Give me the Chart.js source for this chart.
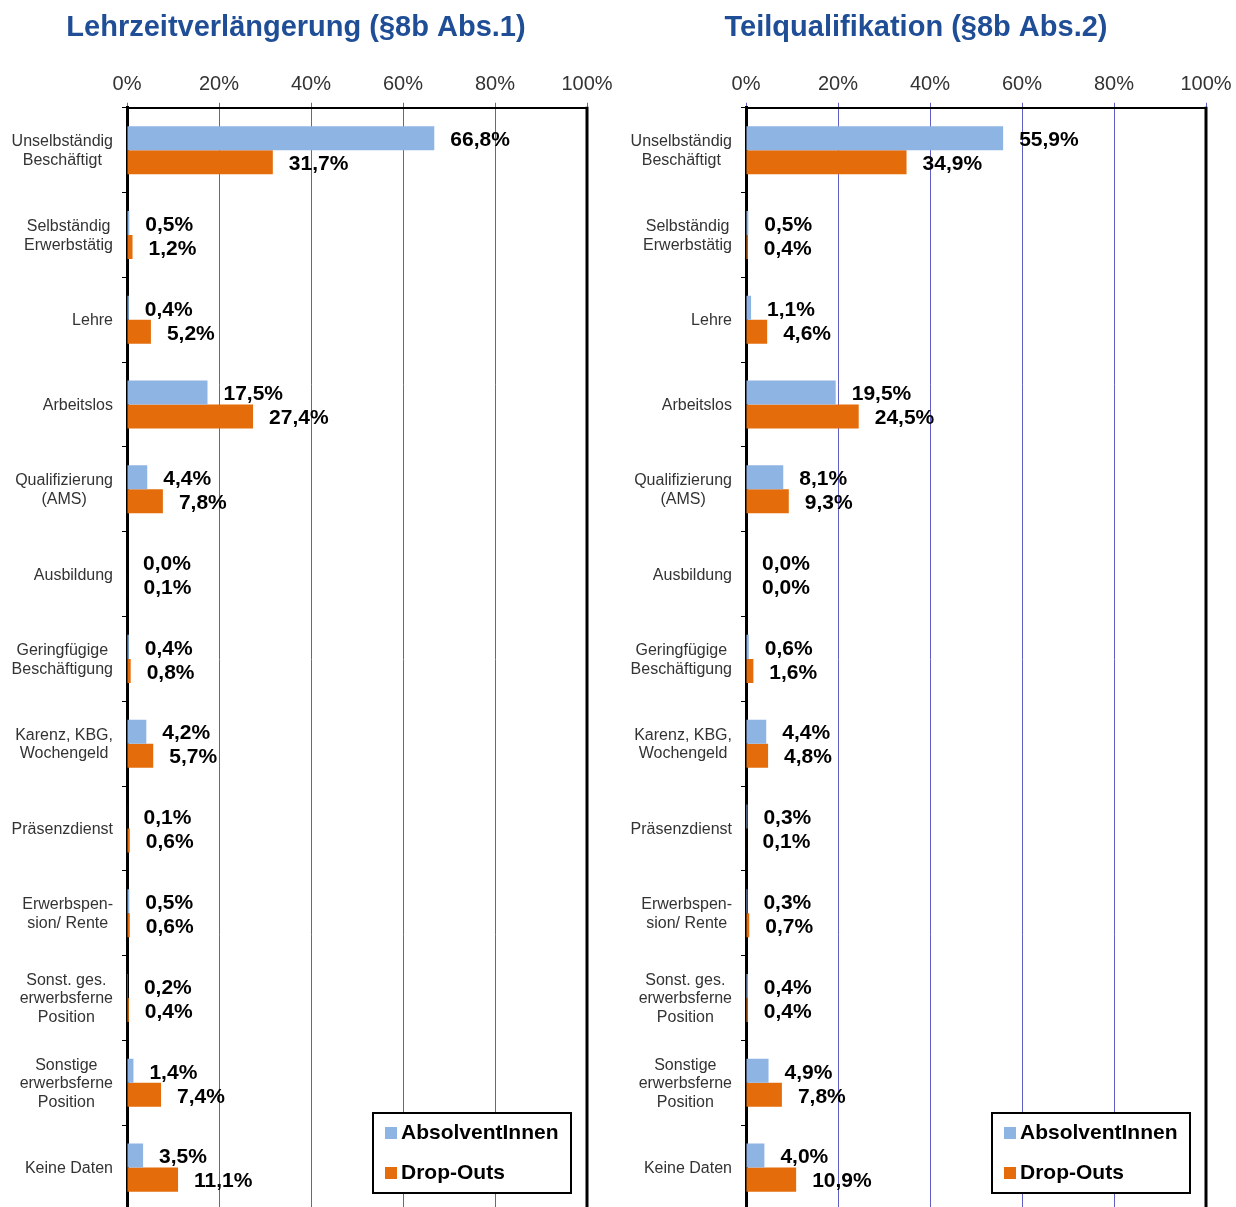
<!DOCTYPE html>
<html>
<head>
<meta charset="utf-8">
<script src="https://cdn.jsdelivr.net/npm/chart.js@4.4.0/dist/chart.umd.min.js"></script>
<style>
  html, body { margin: 0; padding: 0; background: #fff; overflow: hidden; width: 1236px; height: 1207px; }
  canvas { position: absolute; top: 0; }
  #chartLeft { left: 5px; }
  #chartRight { left: 626px; }
</style>
</head>
<body>
<canvas id="chartLeft" width="640" height="1215"></canvas>
<canvas id="chartRight" width="640" height="1215"></canvas>
<script>
// Kategorien (mehrzeilig wie im Original)
const categories = [
    ["Unselbständig", "Beschäftigt"],
    ["Selbständig", "Erwerbstätig"],
    ["Lehre"],
    ["Arbeitslos"],
    ["Qualifizierung", "(AMS)"],
    ["Ausbildung"],
    ["Geringfügige", "Beschäftigung"],
    ["Karenz, KBG,", "Wochengeld"],
    ["Präsenzdienst"],
    ["Erwerbspen-", "sion/ Rente"],
    ["Sonst. ges.", "erwerbsferne", "Position"],
    ["Sonstige", "erwerbsferne", "Position"],
    ["Keine Daten"]
];

const seriesNames = ["AbsolventInnen", "Drop-Outs"];

// Lehrzeitverlängerung (§8b Abs.1)
const lzvAbsolventen = [66.8, 0.5, 0.4, 17.5, 4.4, 0.0, 0.4, 4.2, 0.1, 0.5, 0.2, 1.4, 3.5];
const lzvDropOuts    = [31.7, 1.2, 5.2, 27.4, 7.8, 0.1, 0.8, 5.7, 0.6, 0.6, 0.4, 7.4, 11.1];

// Teilqualifikation (§8b Abs.2)
const tqAbsolventen = [55.9, 0.5, 1.1, 19.5, 8.1, 0.0, 0.6, 4.4, 0.3, 0.3, 0.4, 4.9, 4.0];
const tqDropOuts    = [34.9, 0.4, 4.6, 24.5, 9.3, 0.0, 1.6, 4.8, 0.1, 0.7, 0.4, 7.8, 10.9];

const xTicks = [0, 20, 40, 60, 80, 100];

const colors = ["#8EB4E3", "#E46C0A"];

const FONT = "'Liberation Sans', Arial, sans-serif";

function fmt(v) {
    return v.toFixed(1).replace(".", ",") + "%";
}

// eigene Zeichnungen: Achsenbeschriftung links, Werte, Rahmen, Legende
const extrasPlugin = {
    id: "extras",
    afterDatasetsDraw(chart) {
        const ctx = chart.ctx;
        const area = chart.chartArea;
        const yScale = chart.scales.y;

        // Kategorie-Beschriftung: Block rechtsbündig, Zeilen zentriert
        ctx.save();
        ctx.font = "16px " + FONT;
        ctx.fillStyle = "#333333";
        ctx.textAlign = "center";
        ctx.textBaseline = "middle";
        const lh = 18.5;
        chart.data.labels.forEach((lines, i) => {
            const yc = yScale.getPixelForValue(i);
            let w = 0;
            lines.forEach(l => { w = Math.max(w, ctx.measureText(l).width); });
            const xc = area.left - 14 - w / 2;
            lines.forEach((l, k) => {
                ctx.fillText(l, xc, yc + 1 + (k - (lines.length - 1) / 2) * lh);
            });
        });
        ctx.restore();

        // Werte rechts neben den Balken
        ctx.save();
        ctx.font = "bold 21px " + FONT;
        ctx.fillStyle = "#000";
        ctx.textAlign = "left";
        ctx.textBaseline = "middle";
        chart.data.datasets.forEach((ds, di) => {
            const meta = chart.getDatasetMeta(di);
            meta.data.forEach((bar, i) => {
                ctx.fillText(fmt(ds.data[i]), bar.x + 16, bar.y + 2);
            });
        });
        ctx.restore();

        // Rahmen rechts
        ctx.save();
        ctx.strokeStyle = "#000";
        ctx.lineWidth = 3;
        ctx.beginPath();
        ctx.moveTo(area.right, area.top - 1);
        ctx.lineTo(area.right, area.bottom);
        ctx.stroke();
        ctx.restore();

        // Legende unten rechts im Diagramm
        ctx.save();
        const bw = 198, bh = 80;
        const bx = area.right - 16 - bw;
        const by = area.bottom - 17 - bh;
        ctx.fillStyle = "#fff";
        ctx.fillRect(bx, by, bw, bh);
        ctx.strokeStyle = "#000";
        ctx.lineWidth = 2;
        ctx.strokeRect(bx, by, bw, bh);
        ctx.font = "bold 21px " + FONT;
        ctx.textAlign = "left";
        ctx.textBaseline = "middle";
        chart.data.datasets.forEach((ds, di) => {
            const cy = by + 20 + di * 40;
            ctx.fillStyle = ds.backgroundColor;
            ctx.fillRect(bx + 12, cy - 6, 12, 12);
            ctx.fillStyle = "#000";
            ctx.fillText(ds.label, bx + 28, cy);
        });
        ctx.restore();
    }
};

function makeChart(id, title, absol, drops, axisWidth, padRight) {
    const ctx = document.getElementById(id).getContext("2d");
    return new Chart(ctx, {
        type: "bar",
        data: {
            labels: categories,
            datasets: [
                { label: seriesNames[0], data: absol, backgroundColor: colors[0] },
                { label: seriesNames[1], data: drops, backgroundColor: colors[1] }
            ]
        },
        options: {
            indexAxis: "y",
            responsive: false,
            animation: false,
            devicePixelRatio: 1,
            layout: { padding: { left: 0, right: padRight, bottom: 5 } },
            datasets: {
                bar: { categoryPercentage: 0.567, barPercentage: 1.0, borderWidth: 0 }
            },
            scales: {
                x: {
                    position: "top",
                    min: 0,
                    max: 100,
                    afterBuildTicks(scale) {
                        scale.ticks = xTicks.map(v => ({ value: v }));
                    },
                    ticks: {
                        callback: v => v + "%",
                        color: "#333333",
                        font: { family: FONT, size: 20 },
                        padding: 6,
                        maxRotation: 0
                    },
                    grid: { color: "#5F5FC4", lineWidth: 1, tickLength: 5 },
                    border: { display: true, color: "#000", width: 2 }
                },
                y: {
                    afterFit(scale) { scale.width = axisWidth; },
                    ticks: { display: false },
                    grid: { drawOnChartArea: false, offset: true, tickLength: 5, color: "#000", lineWidth: 1 },
                    border: { display: true, color: "#000", width: 3 }
                }
            },
            plugins: {
                legend: { display: false },
                tooltip: { enabled: false },
                title: {
                    display: true,
                    text: title,
                    color: "#1F4E96",
                    font: { family: FONT, size: 29, weight: "bold" },
                    padding: { top: 11, bottom: 21 }
                }
            }
        },
        plugins: [extrasPlugin]
    });
}

makeChart("chartLeft", "Lehrzeitverlängerung (§8b Abs.1)", lzvAbsolventen, lzvDropOuts, 122, 58);
makeChart("chartRight", "Teilqualifikation (§8b Abs.2)", tqAbsolventen, tqDropOuts, 120, 60);
</script>
</body>
</html>
